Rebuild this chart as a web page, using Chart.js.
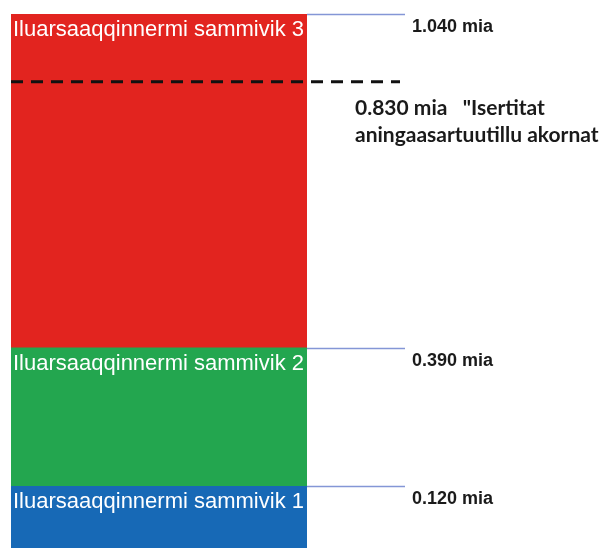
<!DOCTYPE html>
<html>
<head>
<meta charset="utf-8">
<script src="https://cdn.jsdelivr.net/npm/chart.js@4.4.1/dist/chart.umd.min.js"></script>
<style>
  html, body { margin: 0; padding: 0; background: #ffffff; }
  #wrap { width: 604px; height: 548px; }
</style>
</head>
<body>
<div id="wrap"><canvas id="chart" width="604" height="548"></canvas></div>
<script>
// Data
const categories = ['Iluarsaaqqinnermi'];
const stepNames = ['Iluarsaaqqinnermi sammivik 1', 'Iluarsaaqqinnermi sammivik 2', 'Iluarsaaqqinnermi sammivik 3'];
const stepTops = [0.120, 0.390, 1.040];          // cumulative level, billions
const stepLabels = ['0.120 mia', '0.390 mia', '1.040 mia'];
const stepColors = ['#1769b6', '#23a64f', '#e2241f'];

// dashed marker: drawn position in the picture vs. printed text
const markerLevel = 0.908;
const markerText = ['0.830 mia   "Isertitat', 'aningaasartuutillu akornat'];

// floating bars: each step goes from previous level to its own level
const datasets = stepTops.map((top, i) => ({
  label: stepNames[i],
  data: [[i === 0 ? 0 : stepTops[i - 1], top]],
  backgroundColor: stepColors[i],
  borderWidth: 0,
  grouped: false,
  barPercentage: 1,
  categoryPercentage: 1
}));

// Annotation plugin: level lines, labels and dashed marker
const annotations = {
  id: 'annotations',
  afterDatasetsDraw(chart) {
    const ctx = chart.ctx;
    const y = chart.scales.y;
    const area = chart.chartArea;
    ctx.save();

    stepTops.forEach((top, i) => {
      const py = Math.round(y.getPixelForValue(top)) + 0.5;

      // thin blue level line
      ctx.strokeStyle = '#8496d6';
      ctx.lineWidth = 1.5;
      ctx.beginPath();
      ctx.moveTo(area.right, py);
      ctx.lineTo(405, py);
      ctx.stroke();

      // value label on the right
      ctx.fillStyle = '#1a1a1a';
      ctx.font = "bold 18px 'Liberation Sans', Arial, sans-serif";
      ctx.textBaseline = 'alphabetic';
      ctx.textAlign = 'left';
      ctx.fillText(stepLabels[i], 412, py + 17);

      // step name inside the bar
      ctx.fillStyle = '#ffffff';
      ctx.font = "22px 'Liberation Sans', Arial, sans-serif";
      ctx.fillText(stepNames[i], area.left + 2, py + 21);
    });

    // dashed marker line
    const my = y.getPixelForValue(markerLevel);
    ctx.strokeStyle = '#111111';
    ctx.lineWidth = 3;
    ctx.setLineDash([12, 8]);
    ctx.beginPath();
    ctx.moveTo(area.left, my);
    ctx.lineTo(400, my);
    ctx.stroke();
    ctx.setLineDash([]);

    ctx.fillStyle = '#1a1a1a';
    ctx.font = "bold 21px Lato, 'Open Sans', sans-serif";
    markerText.forEach((t, i) => {
      ctx.fillText(t, 355, my + 33 + i * 27);
    });

    ctx.restore();
  }
};

new Chart(document.getElementById('chart'), {
  type: 'bar',
  data: {
    labels: categories,
    datasets: datasets
  },
  options: {
    responsive: false,
    animation: false,
    devicePixelRatio: 1,
    layout: {
      padding: { top: 14, left: 11, right: 297, bottom: 0 }
    },
    scales: {
      x: { display: false },
      y: { display: false, min: 0, max: 1.04 }
    },
    plugins: {
      legend: { display: false },
      tooltip: { enabled: false }
    }
  },
  plugins: [annotations]
});
</script>
</body>
</html>
